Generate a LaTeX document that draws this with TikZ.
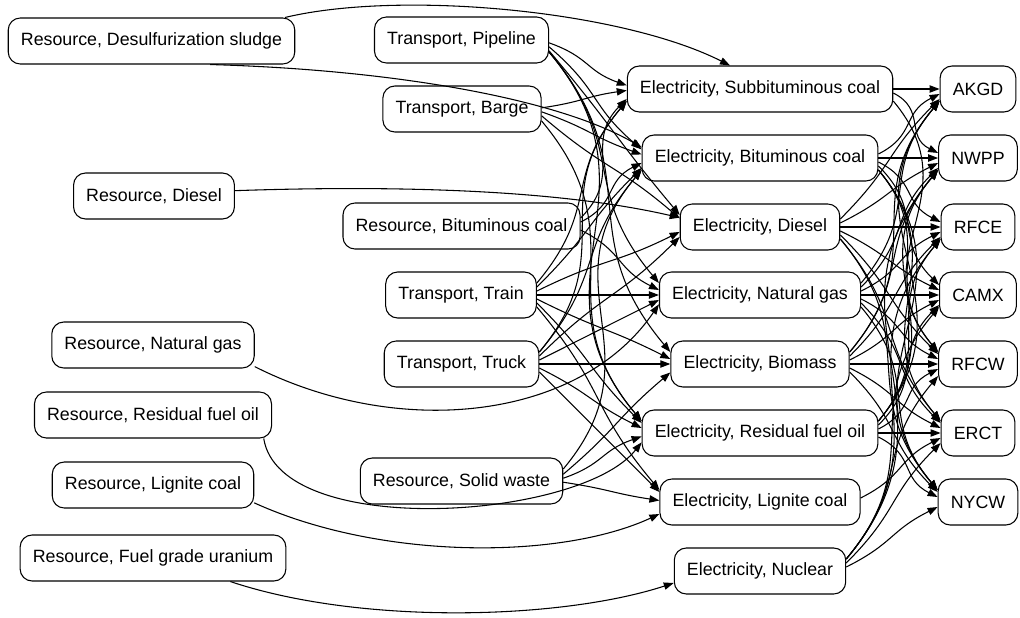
\documentclass[tikz,border=0pt]{standalone}
\usepackage{fontspec}
\setmainfont{Liberation Sans}
\usetikzlibrary{arrows.meta,calc}
\tikzset{
    box/.style={draw,line width=0.8pt,rounded corners=9pt,minimum height=34.5pt,minimum width=52.5pt,inner xsep=9.5pt,font=\fontsize{13.35}{16}\selectfont},
    flow/.style={line width=0.8pt,-{Triangle[length=7.5pt,width=5.5pt]}}
}
\newcommand{\flowlink}[2]{%
    \path (#1.center); \pgfgetlastxy{\xa}{\ya}
    \path (#2.center); \pgfgetlastxy{\xb}{\yb}
    \pgfmathsetmacro\dr{(\ya-\yb)/51.75}
    \pgfmathsetmacro\sy{-0.75*max(-12,min(12,4*\dr))}
    \pgfmathsetmacro\ty{0.75*max(-12,min(12,5*\dr))}
    \pgfmathsetmacro\oa{-max(-50,min(50,atan2(\dr,2)))}
    \pgfmathsetmacro\ia{180+\oa}
    \draw[flow] ([yshift=\sy pt]#1.east) to[out=\oa,in=\ia,looseness=1.25] ([yshift=\ty pt]#2.west);
}
\begin{document}
\begin{tikzpicture}[x=0.75pt,y=-0.75pt]
\useasboundingbox (0,0) rectangle (1020,617);
\foreach \x/\y/\p/\labeltext in {151.5/41/sludge/{Resource, Desulfurization sludge}, 154/196/resdiesel/{Resource, Diesel}, 153/345/resng/{Resource, Natural gas}, 153/415/resrfo/{Resource, Residual fuel oil}, 153/485/reslig/{Resource, Lignite coal}, 153/558/uranium/{Resource, Fuel grade uranium}, 461.5/40/pipeline/{Transport, Pipeline}, 462/109/barge/{Transport, Barge}, 461.5/226/resbit/{Resource, Bituminous coal}, 461/295/train/{Transport, Train}, 461.5/364/truck/{Transport, Truck}, 461.5/481/solid/{Resource, Solid waste}}{
    \node[box] (\p) at (\x,\y) {\labeltext};
}
\foreach \y/\p/\labeltext in {89/esub/{Electricity, Subbituminous coal}, 158/ebit/{Electricity, Bituminous coal}, 227/edies/{Electricity, Diesel}, 295/eng/{Electricity, Natural gas}, 364/ebio/{Electricity, Biomass}, 433/erfo/{Electricity, Residual fuel oil}, 502/elig/{Electricity, Lignite coal}, 571/enuc/{Electricity, Nuclear}}{
    \node[box] (\p) at (760,\y) {\labeltext};
}
\foreach \y/\p/\labeltext in {89/akgd/AKGD, 158/nwpp/NWPP, 227/rfce/RFCE, 295/camx/CAMX, 364/rfcw/RFCW, 433/erct/ERCT, 502/nycw/NYCW}{
    \node[box] (\p) at (978,\y) {\labeltext};
}
% fuels and transport into the plants
\foreach \s/\t in {pipeline/esub, pipeline/ebit, pipeline/edies, pipeline/eng, pipeline/ebio, pipeline/erfo, barge/esub, barge/ebit, barge/edies, barge/erfo, resbit/esub, resbit/ebit, resbit/eng, train/esub, train/ebit, train/edies, train/eng, train/ebio, train/erfo, train/elig, truck/esub, truck/ebit, truck/edies, truck/eng, truck/ebio, truck/erfo, truck/elig, solid/ebit, solid/ebio, solid/erfo, solid/elig}{
    \flowlink{\s}{\t}
}
\draw[flow] (sludge.10) .. controls (400,-10) and (620,10) .. ([xshift=-22.5pt]esub.north);
\draw[flow] ([xshift=44pt]sludge.south) .. controls (400,70) and (560,100) .. ([yshift=8pt]ebit.west);
\draw[flow] ([yshift=4pt]resdiesel.east) .. controls (400,185) and (560,190) .. ([yshift=7pt]edies.west);
\draw[flow] (resng.-12) .. controls (400,440) and (580,420) .. ([yshift=-7pt]eng.west);
\draw[flow] (resrfo.-12) .. controls (280,540) and (580,520) .. ([yshift=-7pt]erfo.west);
\draw[flow] (reslig.-10) .. controls (380,560) and (560,560) .. ([yshift=-9pt]elig.west);
\draw[flow] ([xshift=58pt]uranium.south) .. controls (360,625) and (560,620) .. ([yshift=-9pt]enuc.west);
% plants into the regions
\foreach \t in {akgd,nwpp,rfcw}{\flowlink{esub}{\t}}
\foreach \s in {ebit,edies,eng,ebio,erfo}{
    \foreach \t in {akgd,nwpp,rfce,camx,rfcw,erct,nycw}{\flowlink{\s}{\t}}
}
\flowlink{elig}{erct}
\foreach \t in {nwpp,rfce,camx,rfcw,erct,nycw}{\flowlink{enuc}{\t}}
\end{tikzpicture}
\end{document}
